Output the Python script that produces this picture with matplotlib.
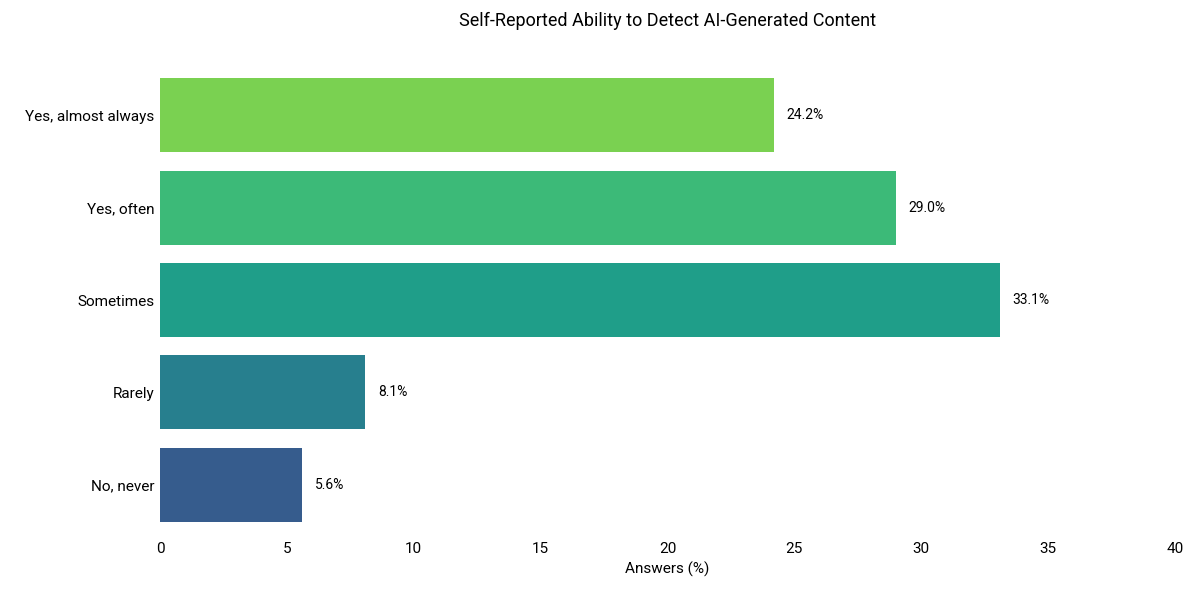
import matplotlib
matplotlib.use("Agg")
import matplotlib.pyplot as plt

plt.rcParams['font.family'] = ['Roboto', 'DejaVu Sans']

categories = ['No, never', 'Rarely', 'Sometimes', 'Yes, often', 'Yes, almost always']
values = [5.6, 8.1, 33.1, 29.0, 24.2]
colors = ['#365c8d', '#277f8e', '#1f9e89', '#3cba78', '#7ad151']

fig = plt.figure(figsize=(12, 6), dpi=100)
ax = fig.add_axes([0.1333, 0.115, 0.8458, 0.77])
pos = range(len(categories))
ax.barh(pos, values, height=0.8, color=colors)
for p, v in zip(pos, values):
    ax.text(v + 0.5, p, f'{v:.1f}%', va='center', ha='left', fontsize=10)

ax.set_yticks(list(pos))
ax.set_yticklabels(categories, fontsize=11)
ax.set_xlim(0, 40)
ax.set_ylim(-0.5, 4.5)
ax.set_xticks(range(0, 41, 5))
ax.tick_params(axis='x', labelsize=11, length=0, pad=8)
ax.tick_params(axis='y', length=0, pad=4)
for s in ax.spines.values():
    s.set_visible(False)
ax.set_xlabel('Answers (%)', fontsize=11, labelpad=4)
fig.suptitle('Self-Reported Ability to Detect AI-Generated Content', fontsize=13, y=0.98, x=0.556)

fig.savefig('out.png')
